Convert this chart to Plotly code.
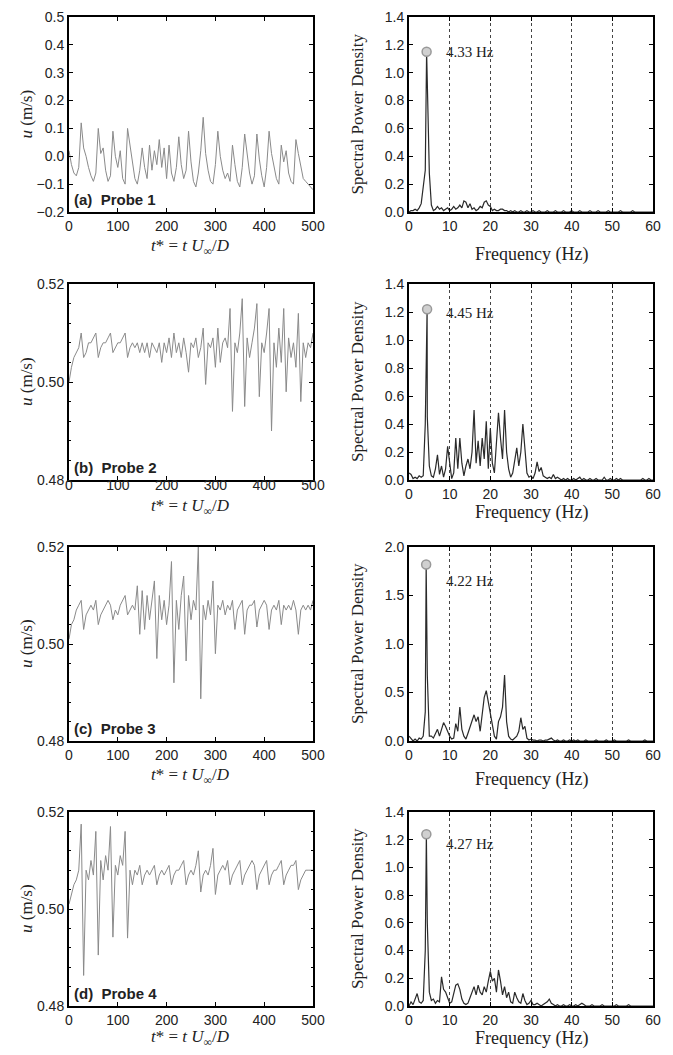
import numpy as np
import plotly.graph_objects as go
from plotly.subplots import make_subplots

# time axis t* and frequency axis (Hz)
t_star = list(range(0, 505, 5))
freq_hz = [i * 0.5 for i in range(121)]

# streamwise velocity u (m/s)
u_probe1 = [0.02, -0.03, -0.06, -0.07, -0.04, 0.12, 0.03, 0.00, -0.04, -0.07,
            -0.09, -0.06, 0.10, 0.01, 0.03, -0.05, -0.09, -0.07, 0.09, 0.00,
            -0.04, 0.02, -0.08, -0.10, 0.10, 0.04, -0.03, -0.08, -0.10, -0.05,
            0.03, -0.04, -0.08, 0.04, -0.05, 0.02, -0.03, 0.06, -0.04, 0.03,
            -0.08, 0.04, -0.06, -0.09, -0.04, 0.07, -0.03, -0.08, -0.05, 0.09,
            -0.02, -0.09, -0.11, -0.06, 0.02, 0.14, 0.01, -0.05, -0.09, -0.10,
            -0.03, 0.09, 0.00, -0.05, -0.08, -0.06, -0.09, 0.04, -0.03, -0.09,
            -0.11, -0.04, 0.08, 0.00, -0.06, -0.10, -0.07, 0.08, -0.01, -0.07,
            -0.11, -0.04, 0.09, 0.01, -0.03, -0.08, -0.10, 0.04, -0.02, 0.02,
            -0.06, -0.09, -0.10, 0.06, 0.01, -0.04, -0.08, -0.09, -0.10, -0.11,
            -0.12]
u_probe2 = [0.500, 0.503, 0.505, 0.506, 0.507, 0.510, 0.505, 0.506, 0.508, 0.508,
            0.509, 0.510, 0.505, 0.507, 0.508, 0.508, 0.509, 0.510, 0.506, 0.507,
            0.508, 0.508, 0.509, 0.510, 0.505, 0.507, 0.508, 0.507, 0.508, 0.506,
            0.508, 0.506, 0.508, 0.505, 0.508, 0.507, 0.506, 0.508, 0.504, 0.508,
            0.506, 0.509, 0.505, 0.510, 0.506, 0.508, 0.505, 0.509, 0.506, 0.502,
            0.508, 0.507, 0.509, 0.505, 0.507, 0.511, 0.4995, 0.508, 0.507, 0.509,
            0.503, 0.511, 0.504, 0.508, 0.509, 0.507, 0.515, 0.494, 0.508, 0.506,
            0.510, 0.517, 0.495, 0.509, 0.505, 0.508, 0.511, 0.516, 0.497, 0.508,
            0.506, 0.510, 0.515, 0.490, 0.508, 0.503, 0.511, 0.504, 0.515, 0.498,
            0.509, 0.505, 0.508, 0.503, 0.514, 0.496, 0.508, 0.505, 0.508, 0.507,
            0.510]
u_probe3 = [0.501, 0.504, 0.505, 0.507, 0.508, 0.509, 0.503, 0.506, 0.507, 0.508,
            0.507, 0.509, 0.504, 0.506, 0.507, 0.508, 0.509, 0.508, 0.505, 0.507,
            0.506, 0.508, 0.509, 0.510, 0.506, 0.507, 0.508, 0.507, 0.512, 0.502,
            0.511, 0.503, 0.510, 0.505, 0.509, 0.513, 0.497, 0.510, 0.505, 0.509,
            0.504, 0.508, 0.517, 0.492, 0.509, 0.503, 0.510, 0.514, 0.4965, 0.510,
            0.505, 0.509, 0.507, 0.520, 0.4887, 0.508, 0.505, 0.509, 0.506, 0.513,
            0.498, 0.508, 0.507, 0.509, 0.506, 0.508, 0.507, 0.509, 0.503, 0.507,
            0.508, 0.509, 0.502, 0.507, 0.508, 0.508, 0.509, 0.5035, 0.507, 0.508,
            0.509, 0.508, 0.503, 0.507, 0.508, 0.507, 0.509, 0.504, 0.508, 0.507,
            0.508, 0.507, 0.509, 0.507, 0.502, 0.507, 0.508, 0.507, 0.508, 0.507,
            0.509]
u_probe4 = [0.501, 0.503, 0.505, 0.506, 0.508, 0.5175, 0.4863, 0.508, 0.506, 0.510,
            0.507, 0.516, 0.4905, 0.510, 0.506, 0.511, 0.508, 0.517, 0.4942, 0.509,
            0.507, 0.511, 0.509, 0.516, 0.494, 0.508, 0.505, 0.508, 0.507, 0.509,
            0.505, 0.507, 0.508, 0.507, 0.508, 0.509, 0.505, 0.507, 0.508, 0.507,
            0.508, 0.509, 0.505, 0.507, 0.508, 0.508, 0.509, 0.510, 0.505, 0.507,
            0.508, 0.507, 0.509, 0.512, 0.5035, 0.507, 0.508, 0.507, 0.509, 0.5125,
            0.503, 0.507, 0.508, 0.509, 0.508, 0.510, 0.505, 0.507, 0.508, 0.509,
            0.510, 0.505, 0.507, 0.508, 0.509, 0.510, 0.509, 0.504, 0.507, 0.508,
            0.509, 0.510, 0.505, 0.507, 0.508, 0.508, 0.509, 0.510, 0.505, 0.507,
            0.508, 0.509, 0.509, 0.510, 0.504, 0.506, 0.507, 0.508, 0.508, 0.508,
            0.508]

# spectral power density on the 0.5 Hz grid
spd_probe1 = [0.00, 0.01, 0.01, 0.02, 0.01, 0.03, 0.06, 0.17, 0.30, 0.95,
              0.28, 0.05, 0.01, 0.02, 0.04, 0.02, 0.03, 0.01, 0.02, 0.03,
              0.01, 0.02, 0.04, 0.02, 0.03, 0.05, 0.03, 0.08, 0.07, 0.03,
              0.06, 0.02, 0.03, 0.01, 0.02, 0.04, 0.03, 0.07, 0.08, 0.05,
              0.04, 0.01, 0.02, 0.01, 0.01, 0.02, 0.02, 0.01, 0.01, 0.00,
              0.01, 0.00, 0.01, 0.00, 0.00, 0.01, 0.00, 0.00, 0.01, 0.00,
              0.00, 0.01, 0.00, 0.00, 0.01, 0.00, 0.00, 0.00, 0.01, 0.00,
              0.00, 0.00, 0.01, 0.00, 0.00, 0.00, 0.01, 0.00, 0.00, 0.00,
              0.01, 0.00, 0.00, 0.00, 0.01, 0.00, 0.00, 0.00, 0.00, 0.01,
              0.00, 0.00, 0.00, 0.01, 0.00, 0.00, 0.00, 0.00, 0.01, 0.00,
              0.00, 0.00, 0.00, 0.00, 0.01, 0.00, 0.00, 0.00, 0.00, 0.00,
              0.01, 0.00, 0.00, 0.00, 0.00, 0.00, 0.00, 0.00, 0.00, 0.00,
              0.00]
spd_probe2 = [0.05, 0.04, 0.01, 0.02, 0.01, 0.03, 0.02, 0.03, 0.40, 0.45,
              0.10, 0.03, 0.02, 0.08, 0.18, 0.04, 0.10, 0.02, 0.08, 0.24,
              0.10, 0.01, 0.05, 0.30, 0.08, 0.30, 0.12, 0.03, 0.10, 0.15,
              0.08, 0.20, 0.50, 0.12, 0.28, 0.10, 0.30, 0.15, 0.42, 0.08,
              0.37, 0.12, 0.05, 0.25, 0.48, 0.30, 0.15, 0.50, 0.20, 0.08,
              0.02, 0.05, 0.15, 0.23, 0.10, 0.20, 0.40, 0.25, 0.05, 0.02,
              0.03, 0.01, 0.05, 0.13, 0.06, 0.09, 0.03, 0.02, 0.01, 0.02,
              0.01, 0.04, 0.01, 0.02, 0.01, 0.00, 0.01, 0.00, 0.01, 0.00,
              0.00, 0.01, 0.00, 0.01, 0.02, 0.00, 0.01, 0.00, 0.00, 0.01,
              0.00, 0.00, 0.01, 0.00, 0.00, 0.00, 0.02, 0.00, 0.00, 0.01,
              0.00, 0.00, 0.01, 0.00, 0.01, 0.00, 0.00, 0.00, 0.00, 0.00,
              0.00, 0.00, 0.00, 0.00, 0.00, 0.01, 0.00, 0.00, 0.01, 0.00,
              0.00]
spd_probe3 = [0.05, 0.02, 0.00, 0.02, 0.00, 0.03, 0.02, 0.05, 0.30, 0.68,
              0.05, 0.05, 0.03, 0.08, 0.12, 0.05, 0.12, 0.19, 0.15, 0.10,
              0.05, 0.02, 0.03, 0.18, 0.10, 0.35, 0.12, 0.05, 0.02, 0.08,
              0.15, 0.22, 0.27, 0.20, 0.25, 0.10, 0.28, 0.45, 0.52, 0.40,
              0.30, 0.18, 0.05, 0.02, 0.20, 0.25, 0.35, 0.68, 0.20, 0.05,
              0.02, 0.01, 0.03, 0.05, 0.10, 0.24, 0.12, 0.15, 0.03, 0.01,
              0.02, 0.01, 0.01, 0.00, 0.01, 0.01, 0.00, 0.01, 0.01, 0.02,
              0.03, 0.01, 0.00, 0.01, 0.00, 0.00, 0.01, 0.00, 0.00, 0.01,
              0.00, 0.01, 0.00, 0.01, 0.00, 0.00, 0.00, 0.01, 0.00, 0.00,
              0.00, 0.00, 0.01, 0.00, 0.00, 0.00, 0.00, 0.01, 0.00, 0.00,
              0.00, 0.01, 0.00, 0.00, 0.00, 0.00, 0.00, 0.00, 0.01, 0.00,
              0.00, 0.00, 0.00, 0.00, 0.00, 0.00, 0.01, 0.00, 0.00, 0.00,
              0.00]
spd_probe4 = [0.00, 0.03, 0.01, 0.05, 0.09, 0.03, 0.02, 0.04, 0.40, 0.60,
              0.10, 0.04, 0.05, 0.02, 0.04, 0.03, 0.21, 0.12, 0.10, 0.06,
              0.02, 0.03, 0.10, 0.15, 0.16, 0.12, 0.05, 0.02, 0.01, 0.02,
              0.06, 0.10, 0.14, 0.08, 0.15, 0.10, 0.08, 0.14, 0.10, 0.18,
              0.25, 0.18, 0.20, 0.10, 0.26, 0.18, 0.08, 0.14, 0.06, 0.10,
              0.03, 0.02, 0.10, 0.06, 0.03, 0.02, 0.09, 0.04, 0.01, 0.02,
              0.04, 0.01, 0.01, 0.02, 0.01, 0.00, 0.01, 0.02, 0.03, 0.05,
              0.02, 0.01, 0.00, 0.01, 0.00, 0.00, 0.01, 0.00, 0.00, 0.01,
              0.00, 0.00, 0.01, 0.00, 0.01, 0.02, 0.01, 0.00, 0.00, 0.00,
              0.01, 0.00, 0.00, 0.00, 0.00, 0.01, 0.00, 0.00, 0.00, 0.00,
              0.00, 0.00, 0.01, 0.00, 0.00, 0.00, 0.00, 0.00, 0.01, 0.00,
              0.00, 0.00, 0.00, 0.00, 0.00, 0.00, 0.00, 0.00, 0.00, 0.00,
              0.00]

# dominant shedding peaks
peak_freqs = [4.33, 4.45, 4.22, 4.27]
peak_vals = [1.15, 1.22, 1.82, 1.24]
peak_label_y = [1.15, 1.19, 1.65, 1.17]

panel_labels = ["(a)  Probe 1", "(b)  Probe 2", "(c)  Probe 3", "(d)  Probe 4"]
u_series = [u_probe1, u_probe2, u_probe3, u_probe4]
spd_series = [spd_probe1, spd_probe2, spd_probe3, spd_probe4]

# layout in page pixels; the page body adds an 8 px offset
W, H = 673, 1055
OFF = 8
rows_px = [(17, 212), (284, 480), (547, 741), (812, 1006)]
left_px = (69, 313)
right_px = (409, 653)
xtitle_px = [(247, 255), (507, 512), (776, 779), (1038, 1038)]


def fx(px):
    return (px - OFF) / W


def fy(py):
    return 1 - (py - OFF) / H


SANS = "Liberation Sans"
SERIF = "Liberation Serif"

fig = make_subplots(rows=4, cols=2)

axis_common = dict(showline=True, mirror="ticks", linewidth=2, linecolor="black",
                   ticks="inside", ticklen=4, tickwidth=1, tickcolor="black",
                   zeroline=False, automargin=False,
                   tickfont=dict(family=SANS, size=14, color="#222"))

annotations = []
for r in range(4):
    top, bot = rows_px[r]
    ydom = [fy(bot), fy(top)]
    # time history
    fig.add_trace(go.Scatter(x=t_star, y=u_series[r], mode="lines",
                             line=dict(color="#8a8a8a", width=1),
                             showlegend=False), row=r + 1, col=1)
    # spectrum, with the peak sample placed at its frequency
    f = np.array(freq_hz)
    s = np.array(spd_series[r])
    k = np.searchsorted(f, peak_freqs[r])
    f = np.insert(f, k, peak_freqs[r])
    s = np.insert(s, k, peak_vals[r])
    fig.add_trace(go.Scatter(x=f, y=s, mode="lines",
                             line=dict(color="#2a2a2a", width=1.2),
                             showlegend=False), row=r + 1, col=2)
    fig.add_trace(go.Scatter(x=[peak_freqs[r]], y=[peak_vals[r]], mode="markers",
                             marker=dict(size=9, color="#d0d0d0",
                                         line=dict(color="#999", width=1.5)),
                             showlegend=False), row=r + 1, col=2)

    lx = "xaxis" if r == 0 else "xaxis%d" % (2 * r + 1)
    ly = "yaxis" if r == 0 else "yaxis%d" % (2 * r + 1)
    rx = "xaxis%d" % (2 * r + 2)
    ry = "yaxis%d" % (2 * r + 2)

    if r == 0:
        left_y = dict(range=[-0.2, 0.5], dtick=0.1, tickformat=".1f")
    else:
        left_y = dict(range=[0.48, 0.52], tickvals=[0.48, 0.50, 0.52], tickformat=".2f",
                      minor=dict(dtick=0.004, ticks="inside", ticklen=2, tickcolor="black"))
    if r == 2:
        right_y = dict(range=[0, 2.0], dtick=0.5, tickformat=".1f")
    else:
        right_y = dict(range=[0, 1.4], dtick=0.2, tickformat=".1f")

    fig.update_layout({
        lx: dict(axis_common, domain=[fx(left_px[0]), fx(left_px[1])],
                 range=[0, 500], dtick=100, showgrid=False),
        ly: dict(axis_common, domain=ydom, showgrid=False, **left_y),
        rx: dict(axis_common, domain=[fx(right_px[0]), fx(right_px[1])],
                 range=[0, 60], dtick=10, showgrid=True, gridcolor="#444",
                 griddash="dot", gridwidth=1),
        ry: dict(axis_common, domain=ydom, showgrid=False, **right_y),
    })
    if r == 1:
        fig.update_layout({lx: dict(ticklabelstandoff=-9)})

    ycen = fy((top + bot) / 2)
    mid = dict(xref="paper", yref="paper", xanchor="center", yanchor="middle",
               showarrow=False)
    annotations += [
        dict(mid, text="<i>u</i> (m/s)", x=fx(26), y=ycen, textangle=-90,
             font=dict(family=SERIF, size=17, color="#222")),
        dict(mid, text="Spectral Power Density", x=fx(357), y=ycen, textangle=-90,
             font=dict(family=SERIF, size=17, color="#222")),
        dict(mid, text="<i>t</i>* = <i>t U</i><sub>∞</sub>/<i>D</i>",
             x=fx((left_px[0] + left_px[1]) / 2), y=fy(xtitle_px[r][0]),
             font=dict(family=SERIF, size=17, color="#222")),
        dict(mid, text="Frequency (Hz)", x=fx((right_px[0] + right_px[1]) / 2),
             y=fy(xtitle_px[r][1]),
             font=dict(family=SERIF, size=18, color="#222")),
        dict(text="<b>" + panel_labels[r] + "</b>", x=0.012, y=0.01,
             xref=lx.replace("axis", "") + " domain", yref=ly.replace("axis", "") + " domain",
             xanchor="left", yanchor="bottom", showarrow=False,
             font=dict(family=SANS, size=15, color="#222")),
        dict(text="%.2f Hz" % peak_freqs[r], x=15.0, y=peak_label_y[r],
             xref=rx.replace("axis", ""), yref=ry.replace("axis", ""),
             xanchor="center", yanchor="middle",
             showarrow=False, font=dict(family=SERIF, size=15, color="#222")),
    ]

fig.update_layout(width=W, height=H, margin=dict(l=0, r=0, t=0, b=0),
                  paper_bgcolor="white", plot_bgcolor="white",
                  annotations=annotations, showlegend=False)

fig.write_html("out.html")
